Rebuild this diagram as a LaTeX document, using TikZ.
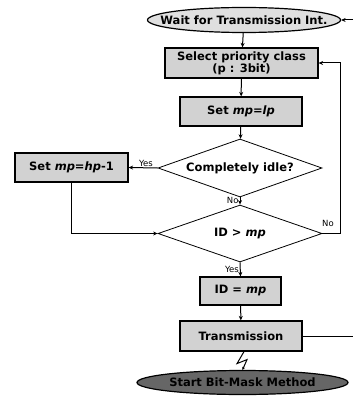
\documentclass[tikz,border=0pt]{standalone}
\usepackage{fontspec}
\setmainfont{DejaVu Sans}
\usetikzlibrary{shapes.geometric,arrows.meta}
\begin{document}
\begin{tikzpicture}[x=1pt,y=-1pt,
  box/.style={draw=black, line width=1.2pt, fill=gray!35, inner sep=0pt,
    font=\bfseries\fontsize{11.5}{10.5}\selectfont, align=center},
  term/.style={draw=black, line width=1.2pt, ellipse, inner xsep=-40pt, inner ysep=0pt,
    font=\bfseries\fontsize{11.5}{12}\selectfont},
  dec/.style={draw=black, line width=0.8pt, diamond, inner sep=0pt,
    font=\bfseries\fontsize{11.5}{12}\selectfont},
  conn/.style={line width=1pt, -{Stealth[length=4.5pt,width=4pt]}},
  plain/.style={line width=1pt},
  lbl/.style={font=\fontsize{8.5}{9}\selectfont, inner sep=1pt}]
\useasboundingbox (0,0) rectangle (353,406);
\node[term, fill=gray!25, minimum width=193pt, minimum height=25pt] (wait) at (244,20) {Wait for Transmission Int.};
\node[box, minimum width=153pt, minimum height=30pt] (sel) at (241.5,63) {Select priority class\\(p : 3bit)};
\node[box, minimum width=122pt, minimum height=29pt] (lp) at (241,111.5) {Set \textit{mp=lp}};
\node[dec, minimum width=164pt, minimum height=58pt, aspect=2.8] (d1) at (240,168) {Completely idle?};
\node[box, minimum width=113pt, minimum height=29pt] (hp) at (71.5,167.5) {Set \textit{mp=hp}-1};
\node[dec, minimum width=164pt, minimum height=57pt, aspect=2.8] (d2) at (240,233.5) {ID > \textit{mp}};
\node[box, minimum width=81pt, minimum height=28pt] (idm) at (240.5,291) {ID = \textit{mp}};
\node[box, minimum width=122pt, minimum height=30pt] (tr) at (241,336) {Transmission};
\node[term, fill=black!60, minimum width=211pt, minimum height=24pt] (bm) at (242.5,382.5) {Start Bit-Mask Method};
\coordinate (inR) at (353,20);
\coordinate (outR) at (353,336);
\coordinate (rc) at (340,233.5);
\draw[conn] (wait) -- (sel);
\draw[conn] (sel) -- (lp);
\draw[conn] (lp) -- (d1);
\draw[conn] (d1.west) -- node[lbl, above, pos=0.4] {Yes} (hp.east);
\draw[conn] (d1.south) -- node[lbl, left, pos=0.4] {No} (d2.north);
\draw[conn] (hp.south) |- (d2.west);
\draw[conn] (d2.east) -- (rc) |- (sel.east);
\node[lbl] at (328,223) {No};
\draw[conn] (d2.south) -- node[lbl, left, pos=0.5] {Yes} (idm.north);
\draw[conn] (idm) -- (tr);
\draw[plain] (tr.east) -- (outR);
\draw[conn] (inR) -- (wait.east);
\draw[plain, -{Stealth[length=3pt,width=3pt]}] (tr.south) ++(3,0) -- ++(-7,12) -- ++(10,-4) -- (bm.north);
\end{tikzpicture}
\end{document}
